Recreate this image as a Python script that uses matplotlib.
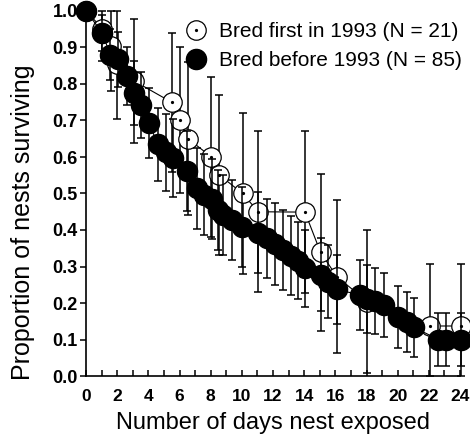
import matplotlib
matplotlib.use('Agg')
import matplotlib.pyplot as plt
from matplotlib.ticker import FixedLocator
import numpy as np

plt.rcParams['font.family'] = ['Liberation Sans', 'DejaVu Sans']

# ---- data ----
days_first = [0, 1.05, 1.6, 2.0, 3.1, 5.5, 6.05, 6.55, 8.05, 8.55, 10.05, 11.05,
              14.05, 15.05, 16.1, 18.05, 22.05, 24.05]
surv_first = [1.0, 0.952, 0.905, 0.855, 0.808, 0.750, 0.700, 0.650, 0.600, 0.551,
              0.500, 0.450, 0.449, 0.339, 0.272, 0.204, 0.137, 0.137]
err_first = [0.0, 0.09, 0.125, 0.15, 0.17, 0.19, 0.20, 0.21, 0.218, 0.22, 0.221,
             0.22, 0.222, 0.215, 0.21, 0.197, 0.17, 0.17]

days_before = [0, 1.05, 1.55, 2.05, 2.6, 3.1, 3.55, 4.05, 4.6, 5.15, 5.6, 6.5,
               7.1, 7.55, 8.1, 8.45, 8.8, 9.35, 10.0, 11.05, 11.6, 12.1, 12.65,
               13.15, 13.6, 14.05, 15.05, 15.55, 16.1, 17.6, 18.05, 18.55, 19.1,
               20.05, 20.6, 21.07, 22.6, 23.1, 24.07]
surv_before = [1.0, 0.94, 0.88, 0.868, 0.822, 0.776, 0.742, 0.693, 0.635, 0.613,
               0.597, 0.561, 0.514, 0.497, 0.484, 0.455, 0.441, 0.427, 0.409,
               0.393, 0.377, 0.362, 0.345, 0.330, 0.316, 0.295, 0.277, 0.258,
               0.237, 0.222, 0.212, 0.206, 0.195, 0.162, 0.149, 0.133, 0.100,
               0.100, 0.100]
err_before = [0.0, 0.05, 0.07, 0.075, 0.08, 0.088, 0.09, 0.097, 0.10, 0.105,
              0.107, 0.11, 0.11, 0.11, 0.11, 0.11, 0.11, 0.11, 0.11, 0.11,
              0.108, 0.112, 0.11, 0.107, 0.105, 0.105, 0.10, 0.10, 0.095, 0.095,
              0.093, 0.09, 0.088, 0.085, 0.082, 0.08, 0.073, 0.073, 0.073]

x_ticks = list(range(0, 25, 2))
y_ticks = [0.0, 0.1, 0.2, 0.3, 0.4, 0.5, 0.6, 0.7, 0.8, 0.9, 1.0]
label_first = 'Bred first in 1993 (N = 21)'
label_before = 'Bred before 1993 (N = 85)'


def clipped(v, e):
    v = np.asarray(v); e = np.asarray(e)
    return [np.minimum(e, v), np.minimum(e, 1.0 - v)]


fig = plt.figure(figsize=(4.7, 4.36), dpi=100)
ax = fig.add_axes([86 / 470, 60 / 436, 374 / 470, 365 / 436])

ebkw = dict(fmt='none', ecolor='black', elinewidth=1.1, capsize=3.2,
            capthick=1.1, clip_on=False)

# open series
ax.errorbar(days_first, surv_first, yerr=clipped(surv_first, err_first), zorder=2, **ebkw)
ax.plot(days_first, surv_first, '-', color='black', lw=0.8, zorder=3)
h_open, = ax.plot(days_first, surv_first, 'o', mfc='white', mec='black', ms=14,
                  mew=0.9, zorder=4, clip_on=False)
h_dot, = ax.plot(days_first, surv_first, 'o', color='black', ms=1.3, zorder=5,
                 clip_on=False)

# filled series
ax.errorbar(days_before, surv_before, yerr=clipped(surv_before, err_before), zorder=6, **ebkw)
ax.plot(days_before, surv_before, '-', color='black', lw=0.8, zorder=7)
h_fill, = ax.plot(days_before, surv_before, 'o', color='black', ms=14.5,
                  zorder=8, clip_on=False)

ax.set_xlim(0, 24)
ax.set_ylim(0, 1.0)
for s in ['top', 'right']:
    ax.spines[s].set_visible(False)
for s in ['left', 'bottom']:
    ax.spines[s].set_linewidth(1.2)

ax.xaxis.set_major_locator(FixedLocator(x_ticks))
ax.xaxis.set_minor_locator(FixedLocator([d for d in range(0, 25) if d % 2 == 1]))
ax.set_xticklabels([str(t) for t in x_ticks], fontsize=12.5, fontweight='bold')
ax.tick_params(axis='x', which='both', direction='in', length=4, width=1.1, pad=9)
ax.set_yticks(y_ticks)
ax.set_yticklabels(['%.1f' % t for t in y_ticks], fontsize=13, fontweight='bold')
ax.tick_params(axis='y', which='both', direction='out', length=4.5, width=1.1, pad=1.5)

ax.set_xlabel('Number of days nest exposed', fontsize=17, labelpad=6)
ax.set_ylabel('Proportion of nests surviving', fontsize=18)
ax.yaxis.set_label_coords(-0.137, 0.42)

ax.legend([(h_open, h_dot), h_fill], [label_first, label_before],
          loc='upper left', bbox_to_anchor=(186 / 470, 1 - 22 / 436),
          bbox_transform=fig.transFigure, frameon=False, fontsize=15,
          handlelength=1.0, handletextpad=0.6, borderaxespad=0, borderpad=0,
          labelspacing=0.5, markerscale=1.0)

fig.savefig('out.png', dpi=100)
